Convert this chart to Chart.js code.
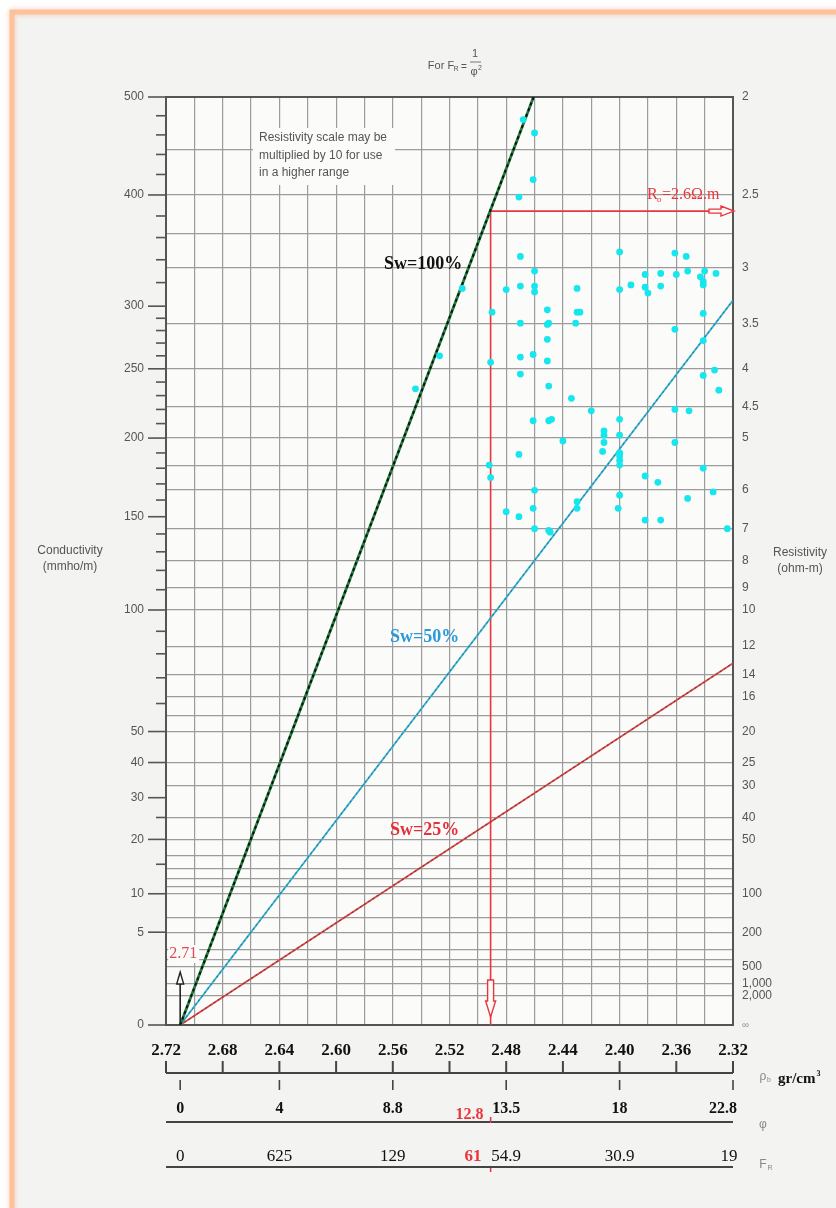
<!DOCTYPE html>
<html lang="en">
<head>
<meta charset="UTF-8">
<title>Hingle plot</title>
<script src="https://cdn.jsdelivr.net/npm/chart.js@4.4.1/dist/chart.umd.min.js"></script>
<style>
  html, body { margin: 0; padding: 0; background: #fff; }
  canvas { display: block; }
</style>
</head>
<body>
<canvas id="hingle" width="836" height="1208"></canvas>
<script>
// core samples: bulk density (gr/cm3) and conductivity (mmho/m)
const sampleDensity = [
  2.468, 2.460, 2.461, 2.471, 2.470, 2.400, 2.361, 2.353, 2.460, 2.382, 2.371, 2.360, 2.352, 2.343, 2.340, 2.332,
  2.341, 2.480, 2.470, 2.460, 2.460, 2.430, 2.400, 2.392, 2.382, 2.380, 2.371, 2.341, 2.490, 2.451, 2.430, 2.428,
  2.341, 2.470, 2.451, 2.450, 2.431, 2.361, 2.451, 2.341, 2.470, 2.461, 2.451, 2.491, 2.470, 2.341, 2.333, 2.450,
  2.330, 2.434, 2.420, 2.361, 2.351, 2.461, 2.450, 2.448, 2.400, 2.411, 2.411, 2.411, 2.400, 2.440, 2.361, 2.412,
  2.400, 2.400, 2.400, 2.400, 2.471, 2.492, 2.491, 2.341, 2.382, 2.373, 2.460, 2.400, 2.334, 2.352, 2.430, 2.430,
  2.480, 2.461, 2.471, 2.401, 2.382, 2.371, 2.460, 2.450, 2.449, 2.324, 2.511, 2.527, 2.544
];
const sampleConductivity = [
  476, 462, 415, 398, 343, 347, 346, 343, 330, 327, 328, 327, 330, 325, 330, 328,
  321, 314, 317, 317, 312, 315, 314, 318, 316, 311, 317, 318, 295, 297, 295, 295,
  294, 286, 285, 286, 286, 281, 273, 272, 259, 261, 256, 255, 246, 245, 249, 237,
  234, 228, 219, 220, 219, 212, 212, 213, 213, 205, 202, 197, 202, 198, 197, 191,
  190, 188, 185, 182, 189, 182, 174, 180, 175, 171, 166, 163, 165, 161, 159, 155,
  153, 155, 150, 155, 148, 148, 143, 142, 141, 143, 315, 260, 235
];

// saturation lines all start at the matrix density (zero conductivity)
const matrixDensity = 2.71;
const swNames = ['Sw=100%', 'Sw=50%', 'Sw=25%'];
const swEndDensity = [2.4607, 2.32, 2.32];
const swEndConductivity = [500, 305, 76];

// Ro pick
const roResistivity = 2.6;
const roDensity = 2.491;
const roPorosity = '12.8';
const roFormation = '61';

// scales
const densityTicks = [2.72, 2.68, 2.64, 2.60, 2.56, 2.52, 2.48, 2.44, 2.40, 2.36, 2.32];
const porosityDensity = [2.71, 2.64, 2.56, 2.48, 2.40, 2.32];
const porosityLabels = ['0', '4', '8.8', '13.5', '18', '22.8'];
const formationLabels = ['0', '625', '129', '54.9', '30.9', '19'];
const conductivityMajor = [500, 400, 300, 250, 200, 150, 100, 50, 40, 30, 20, 10, 5, 0];
const conductivityMinor = [480, 460, 440, 420, 380, 360, 340, 320, 290, 280, 270, 260, 240, 230, 220, 210,
  190, 180, 170, 160, 140, 130, 120, 110, 90, 80, 70, 60, 25, 15];
const resistivityLabels = ['2', '2.5', '3', '3.5', '4', '4.5', '5', '6', '7', '8', '9', '10', '12', '14', '16',
  '20', '25', '30', '40', '50', '100', '200', '500', '1,000', '2,000'];
const resistivityGrid = [2, 2.25, 2.5, 2.75, 3, 3.5, 4, 4.5, 5, 5.5, 6, 7, 8, 9, 10, 12, 14, 16, 18, 20, 25, 30,
  40, 50, 60, 70, 80, 90, 100, 150, 200, 300, 400, 500, 1000, 2000];

// the vertical axis is linear in the square root of conductivity
const sq = c => Math.sqrt(c);
const resToY = r => Math.sqrt(1000 / r);

const SANS = "'Liberation Sans Narrow', 'Liberation Sans', Arial, sans-serif";
const SERIF = "'Liberation Serif', 'Times New Roman', serif";
const PLOT_BG = '#fbfbfa';
const RED = '#e8363c';

const points = sampleDensity.map((d, i) => ({ x: d, y: sq(sampleConductivity[i]) }));

const swLine = i => [{ x: matrixDensity, y: 0 }, { x: swEndDensity[i], y: sq(swEndConductivity[i]) }];
const roC = 1000 / roResistivity;

const datasets = [
  { label: 'samples', data: points, order: 1, pointRadius: 3.4, pointBackgroundColor: '#16e6ee', pointBorderWidth: 0 },
  // Sw=100%: green line with black dashes over it
  { type: 'line', data: swLine(0), order: 2, borderColor: '#111', borderWidth: 2, borderDash: [3, 3], pointRadius: 0 },
  { type: 'line', data: swLine(0), order: 3, borderColor: '#1f7d3d', borderWidth: 2.8, pointRadius: 0 },
  { type: 'line', data: swLine(1), order: 2, borderColor: '#1f8a96', borderWidth: 1.2, borderDash: [2, 3], pointRadius: 0 },
  { type: 'line', data: swLine(1), order: 3, borderColor: '#36acd2', borderWidth: 1.8, pointRadius: 0 },
  { type: 'line', data: swLine(2), order: 2, borderColor: '#a42f30', borderWidth: 1.2, borderDash: [2, 3], pointRadius: 0 },
  { type: 'line', data: swLine(2), order: 3, borderColor: '#cc4c4a', borderWidth: 1.8, pointRadius: 0 },
  // Ro construction
  { type: 'line', data: [{ x: roDensity, y: sq(roC) }, { x: 2.32, y: sq(roC) }], order: 4, borderColor: RED, borderWidth: 1.6, pointRadius: 0 },
  { type: 'line', data: [{ x: roDensity, y: sq(roC) }, { x: roDensity, y: 0 }], order: 4, borderColor: RED, borderWidth: 1.6, pointRadius: 0 }
];

function text(ctx, str, x, y, font, color, align) {
  ctx.font = font;
  ctx.fillStyle = color;
  ctx.textAlign = align || 'center';
  ctx.textBaseline = 'middle';
  ctx.fillText(str, x, y);
}

function hline(ctx, x1, x2, y, color, w) {
  ctx.strokeStyle = color; ctx.lineWidth = w;
  ctx.beginPath(); ctx.moveTo(x1, y); ctx.lineTo(x2, y); ctx.stroke();
}

function vline(ctx, x, y1, y2, color, w) {
  ctx.strokeStyle = color; ctx.lineWidth = w;
  ctx.beginPath(); ctx.moveTo(x, y1); ctx.lineTo(x, y2); ctx.stroke();
}

function shape(ctx, pts, stroke, fill) {
  ctx.beginPath();
  pts.forEach((p, i) => i ? ctx.lineTo(p[0], p[1]) : ctx.moveTo(p[0], p[1]));
  ctx.closePath();
  ctx.fillStyle = fill; ctx.fill();
  ctx.strokeStyle = stroke; ctx.lineWidth = 1.4; ctx.stroke();
}

const decor = {
  id: 'decor',
  beforeDraw(chart) {
    const { ctx, chartArea: a } = chart;
    ctx.save();
    ctx.fillStyle = '#ffffff';
    ctx.fillRect(0, 0, chart.width, chart.height);
    ctx.fillStyle = '#f3f3f2';
    ctx.fillRect(12, 12, chart.width, chart.height);
    // orange page edge
    ctx.shadowColor = 'rgba(250,170,120,0.6)';
    ctx.shadowBlur = 5;
    ctx.strokeStyle = '#fcc29e';
    ctx.lineWidth = 5;
    ctx.beginPath();
    ctx.moveTo(12, chart.height + 10); ctx.lineTo(12, 12); ctx.lineTo(chart.width + 10, 12);
    ctx.stroke();
    ctx.shadowBlur = 0;
    ctx.fillStyle = PLOT_BG;
    ctx.fillRect(a.left, a.top, a.right - a.left, a.bottom - a.top);
    ctx.restore();
  },
  beforeDatasetsDraw(chart) {
    const { ctx, chartArea: a } = chart;
    ctx.save();
    // note box sits on top of the grid
    ctx.fillStyle = PLOT_BG;
    ctx.fillRect(a.left + 87, a.top + 31, 142, 57);
    const nf = '12px ' + SANS;
    text(ctx, 'Resistivity scale may be', a.left + 93, a.top + 41, nf, '#555', 'left');
    text(ctx, 'multiplied by 10 for use', a.left + 93, a.top + 59, nf, '#555', 'left');
    text(ctx, 'in a higher range', a.left + 93, a.top + 76, nf, '#555', 'left');
    // frame
    ctx.strokeStyle = '#555';
    ctx.lineWidth = 2;
    ctx.strokeRect(a.left, a.top, a.right - a.left, a.bottom - a.top);
    ctx.restore();
  },
  afterDatasetsDraw(chart) {
    const { ctx, chartArea: a, scales: { x, y } } = chart;
    ctx.save();

    // conductivity axis (left)
    conductivityMajor.forEach(c => {
      const py = y.getPixelForValue(sq(c));
      hline(ctx, a.left - 18, a.left, py, '#555', 1.6);
      text(ctx, String(c), a.left - 22, py, '12px ' + SANS, '#555', 'right');
    });
    conductivityMinor.forEach(c => {
      const py = y.getPixelForValue(sq(c));
      hline(ctx, a.left - 10, a.left, py, '#555', 1.6);
    });
    text(ctx, 'Conductivity', 70, 551, '12px ' + SANS, '#555');
    text(ctx, '(mmho/m)', 70, 567, '12px ' + SANS, '#555');

    // resistivity axis (right)
    resistivityLabels.forEach(lbl => {
      const r = parseFloat(lbl.replace(',', ''));
      text(ctx, lbl, a.right + 9, y.getPixelForValue(resToY(r)), '12px ' + SANS, '#555', 'left');
    });
    text(ctx, '\u221e', a.right + 9, a.bottom, '10px ' + SANS, '#999', 'left');
    text(ctx, 'Resistivity', 800, 553, '12px ' + SANS, '#555');
    text(ctx, '(ohm-m)', 800, 569, '12px ' + SANS, '#555');

    // title formula  F_R = 1 / phi^2
    text(ctx, 'For F', 441, 66, '11px ' + SANS, '#555');
    text(ctx, 'R', 456, 69, '7px ' + SANS, '#555');
    text(ctx, '=', 464, 67, '10px ' + SANS, '#555');
    text(ctx, '1', 475, 54, '11px ' + SANS, '#555');
    hline(ctx, 470, 481, 62, '#777', 1);
    text(ctx, '\u03c6', 474, 72, '11px ' + SANS, '#555');
    text(ctx, '2', 480, 68, '7px ' + SANS, '#555');

    // saturation line labels
    const sf = 'bold 18px ' + SERIF;
    text(ctx, swNames[0], 384, 264, sf, '#111', 'left');
    text(ctx, swNames[1], 390, 637, sf, '#2a9ad8', 'left');
    text(ctx, swNames[2], 390, 830, sf, '#e3303a', 'left');

    // Ro arrows and label
    const rx = x.getPixelForValue(roDensity);
    const ry = y.getPixelForValue(sq(roC));
    const ex = x.getPixelForValue(2.32);
    shape(ctx, [[ex - 24, ry - 2], [ex - 12, ry - 2], [ex - 12, ry - 5], [ex + 1, ry], [ex - 12, ry + 5],
      [ex - 12, ry + 2], [ex - 24, ry + 2]], RED, PLOT_BG);
    const by = a.bottom;
    shape(ctx, [[rx - 3, by - 45], [rx + 3, by - 45], [rx + 3, by - 24], [rx + 5, by - 24], [rx, by - 8],
      [rx - 5, by - 24], [rx - 3, by - 24]], RED, PLOT_BG);
    ctx.font = '16px ' + SERIF;
    ctx.textAlign = 'left';
    ctx.textBaseline = 'alphabetic';
    ctx.fillStyle = RED;
    const rlx = ex - 86;
    ctx.fillText('R', rlx, ry - 12);
    ctx.font = '9px ' + SERIF;
    ctx.fillText('o', rlx + 10, ry - 9);
    ctx.font = '16px ' + SERIF;
    ctx.fillText('=2.6\u03a9.m', rlx + 15, ry - 12);

    // matrix density arrow
    const mx = x.getPixelForValue(matrixDensity);
    vline(ctx, mx, a.bottom, a.bottom - 41, '#222', 1.6);
    shape(ctx, [[mx, a.bottom - 53], [mx + 3.5, a.bottom - 41], [mx - 3.5, a.bottom - 41]], '#222', PLOT_BG);
    ctx.fillStyle = PLOT_BG;
    ctx.fillRect(mx - 12, a.bottom - 80, 31, 18);
    text(ctx, '2.71', mx + 3, a.bottom - 71, '16px ' + SERIF, '#e04a55');

    // density scale
    const x0 = x.getPixelForValue(2.72), x1 = x.getPixelForValue(2.32);
    const dy = a.bottom + 48;
    hline(ctx, x0, x1, dy, '#444', 2);
    densityTicks.forEach(d => {
      const px = x.getPixelForValue(d);
      vline(ctx, px, dy, dy - 12, '#444', 2);
      text(ctx, d.toFixed(2), px, a.bottom + 26, 'bold 17px ' + SERIF, '#111');
    });
    text(ctx, '\u03c1', 763, dy + 4, '12px ' + SANS, '#888');
    text(ctx, 'b', 769, dy + 7, '7px ' + SANS, '#888');
    text(ctx, 'gr/cm', 778, dy + 6, 'bold 15px ' + SERIF, '#111', 'left');
    const unitW = ctx.measureText('gr/cm').width;
    text(ctx, '3', 779 + unitW, dy + 1, 'bold 8px ' + SERIF, '#111', 'left');

    // porosity scale
    const py = a.bottom + 97;
    porosityDensity.forEach((d, i) => {
      const px = x.getPixelForValue(d);
      vline(ctx, px, a.bottom + 55, a.bottom + 65, '#444', 1.6);
      text(ctx, porosityLabels[i], i === porosityDensity.length - 1 ? px - 10 : px, a.bottom + 84, 'bold 16px ' + SERIF, '#111');
    });
    hline(ctx, x0, x1, py, '#444', 2);
    text(ctx, '\u03c6', 763, py + 3, '12px ' + SANS, '#888');

    // formation factor scale
    const fy = a.bottom + 142;
    porosityDensity.forEach((d, i) => {
      const px = x.getPixelForValue(d);
      text(ctx, formationLabels[i], i === porosityDensity.length - 1 ? px - 4 : px, a.bottom + 132, '17px ' + SERIF, '#111');
    });
    hline(ctx, x0, x1, fy, '#444', 2);
    text(ctx, 'F', 763, fy - 2, '12px ' + SANS, '#888');
    text(ctx, 'R', 770, fy + 1, '7px ' + SANS, '#888');

    // Ro readings on the porosity and formation factor scales
    text(ctx, roPorosity, rx - 7, a.bottom + 90, 'bold 16px ' + SERIF, RED, 'right');
    vline(ctx, rx, py - 5, py + 1, RED, 1.5);
    text(ctx, roFormation, rx - 9, a.bottom + 132, 'bold 17px ' + SERIF, RED, 'right');
    vline(ctx, rx, fy + 1, fy + 5, RED, 1.5);

    ctx.restore();
  }
};

const xGrid = [];
for (let i = 0; i <= 20; i++) xGrid.push((232 + 2 * i) / 100);

new Chart(document.getElementById('hingle'), {
  type: 'scatter',
  data: { datasets },
  options: {
    responsive: false,
    animation: false,
    devicePixelRatio: 1,
    layout: { padding: { left: 166, top: 97, right: 103, bottom: 183 } },
    plugins: { legend: { display: false }, tooltip: { enabled: false } },
    scales: {
      x: {
        type: 'linear', reverse: true, min: 2.32, max: 2.72,
        afterBuildTicks: axis => { axis.ticks = xGrid.map(v => ({ value: v })); },
        ticks: { display: false },
        grid: { color: '#9c9c9c', lineWidth: 1.2, drawTicks: false },
        border: { display: false }
      },
      y: {
        type: 'linear', min: 0, max: sq(500),
        afterBuildTicks: axis => { axis.ticks = resistivityGrid.map(r => ({ value: resToY(r) })); },
        ticks: { display: false },
        grid: { color: '#9c9c9c', lineWidth: 1.2, drawTicks: false },
        border: { display: false }
      }
    }
  },
  plugins: [decor]
});
</script>
</body>
</html>
